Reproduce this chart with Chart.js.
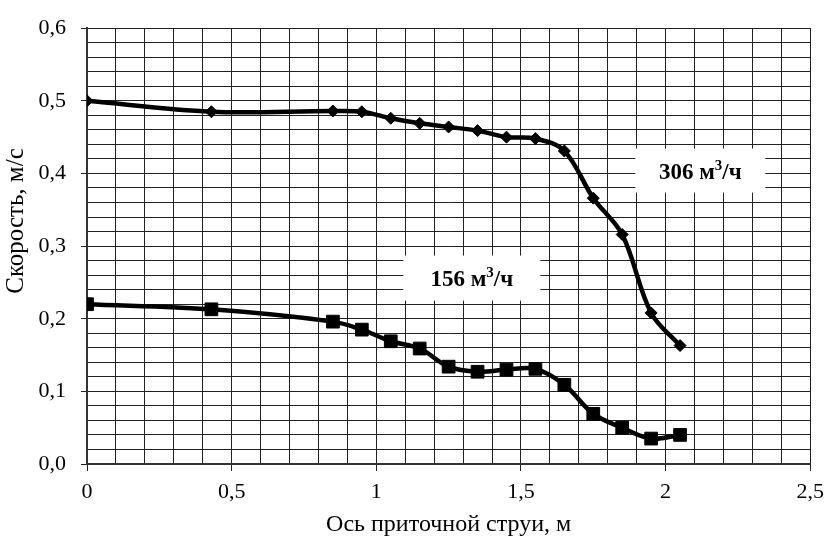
<!DOCTYPE html>
<html>
<head>
<meta charset="utf-8">
<script src="https://cdn.jsdelivr.net/npm/chart.js@4/dist/chart.umd.min.js"></script>
<style>
  body { margin: 0; background: #fff; }
</style>
</head>
<body>
<canvas id="chart" width="832" height="539"></canvas>
<script>
// Data
const xValues = [0, 0.43, 0.85, 0.95, 1.05, 1.15, 1.25, 1.35, 1.45, 1.55, 1.65, 1.75, 1.85, 1.95, 2.05];
const speed306 = [0.5, 0.485, 0.486, 0.485, 0.476, 0.469, 0.464, 0.459, 0.45, 0.448, 0.431, 0.366, 0.316, 0.208, 0.163];
const speed156 = [0.22, 0.213, 0.196, 0.185, 0.169, 0.159, 0.134, 0.127, 0.13, 0.131, 0.109, 0.069, 0.05, 0.035, 0.04];
const seriesNames = ["306 м³/ч", "156 м³/ч"];
// label positions in data units: [x, y]
const labelPos = [[2.12, 0.404], [1.33, 0.256]];
const yTitle = "Скорость, м/с";

const serif = "'Liberation Serif', 'Times New Roman', serif";

const toPoints = (ys) => xValues.map((x, i) => ({ x: x, y: ys[i] }));
const isMultiple = (v, step) => Math.abs(v / step - Math.round(v / step)) < 1e-6;
const fmt = (v) => String(Math.round(v * 10) / 10).replace(".", ",");

// white boxes with "NNN м³/ч" text, plus the y axis title (sits a bit above centre)
const seriesLabels = {
  id: "seriesLabels",
  beforeDatasetsDraw: (chart) => {
    const ctx = chart.ctx;
    const xs = chart.scales.x;
    const ys = chart.scales.y;
    ctx.save();
    seriesNames.forEach((name, i) => {
      const cx = xs.getPixelForValue(labelPos[i][0]);
      const cy = ys.getPixelForValue(labelPos[i][1]);
      const parts = name.split("³");
      const bw = i === 0 ? 130 : 137;
      const bh = i === 0 ? 44 : 45;
      ctx.fillStyle = "#fff";
      ctx.fillRect(cx - bw / 2, cy - bh / 2, bw, bh);

      ctx.fillStyle = "#000";
      ctx.textBaseline = "alphabetic";
      ctx.textAlign = "left";
      const big = `bold 23px ${serif}`;
      const small = `bold 15px ${serif}`;
      ctx.font = big;
      const w1 = ctx.measureText(parts[0]).width;
      const w3 = ctx.measureText(parts[1]).width;
      ctx.font = small;
      const w2 = ctx.measureText("3").width;
      let x = cx - (w1 + w2 + w3) / 2;
      const base = cy + 8;
      ctx.font = big;
      ctx.fillText(parts[0], x, base);
      x += w1;
      ctx.font = small;
      ctx.fillText("3", x, base - 9);
      x += w2;
      ctx.font = big;
      ctx.fillText(parts[1], x, base);
    });
    ctx.restore();
  },
  afterDraw: (chart) => {
    const ctx = chart.ctx;
    ctx.save();
    ctx.translate(16, 221);
    ctx.rotate(-Math.PI / 2);
    ctx.fillStyle = "#000";
    ctx.font = `25px ${serif}`;
    ctx.textAlign = "center";
    ctx.textBaseline = "middle";
    ctx.fillText(yTitle, 0, 0);
    ctx.restore();
  },
};

new Chart(document.getElementById("chart"), {
  type: "line",
  data: {
    datasets: [
      {
        label: seriesNames[0],
        data: toPoints(speed306),
        borderColor: "#000",
        backgroundColor: "#000",
        borderWidth: 4.5,
        tension: 0.35,
        pointStyle: "rectRot",
        pointRadius: 6,
        pointBorderWidth: 1,
      },
      {
        label: seriesNames[1],
        data: toPoints(speed156),
        borderColor: "#000",
        backgroundColor: "#000",
        borderWidth: 4.5,
        tension: 0.35,
        pointStyle: "rect",
        pointRadius: 9,
        pointBorderWidth: 1,
      },
    ],
  },
  options: {
    responsive: false,
    animation: false,
    layout: { padding: { top: 14, right: 19, left: 0, bottom: 0 } },
    plugins: {
      legend: { display: false },
      tooltip: { enabled: false },
    },
    scales: {
      x: {
        type: "linear",
        min: 0,
        max: 2.5,
        afterFit: (scale) => { scale.height = 75; },
        ticks: {
          stepSize: 0.1,
          autoSkip: false,
          maxRotation: 0,
          padding: 8,
          color: "#000",
          font: { family: serif, size: 22 },
          callback: (v) => (isMultiple(v, 0.5) ? fmt(v) : ""),
        },
        grid: {
          color: "#222",
          lineWidth: 1,
          tickLength: 7,
          tickColor: (c) => (c.tick && isMultiple(c.tick.value, 0.5) ? "#222" : "rgba(0,0,0,0)"),
        },
        border: { color: "#333", width: 2 },
        title: {
          display: true,
          text: "Ось приточной струи, м",
          color: "#000",
          font: { family: serif, size: 24 },
          padding: { top: 0, bottom: 0 },
        },
      },
      y: {
        min: 0,
        max: 0.6,
        afterFit: (scale) => { scale.width = 87; },
        ticks: {
          stepSize: 0.02,
          autoSkip: false,
          padding: 15,
          color: "#000",
          font: { family: serif, size: 22 },
          callback: (v) => (isMultiple(v, 0.1) ? (Math.round(v * 10) / 10).toFixed(1).replace(".", ",") : ""),
        },
        grid: {
          color: "#222",
          lineWidth: 1,
          tickLength: 6,
          tickColor: (c) => (c.tick && isMultiple(c.tick.value, 0.1) ? "#222" : "rgba(0,0,0,0)"),
        },
        border: { color: "#333", width: 2 },
      },
    },
  },
  plugins: [seriesLabels],
});
</script>
</body>
</html>
